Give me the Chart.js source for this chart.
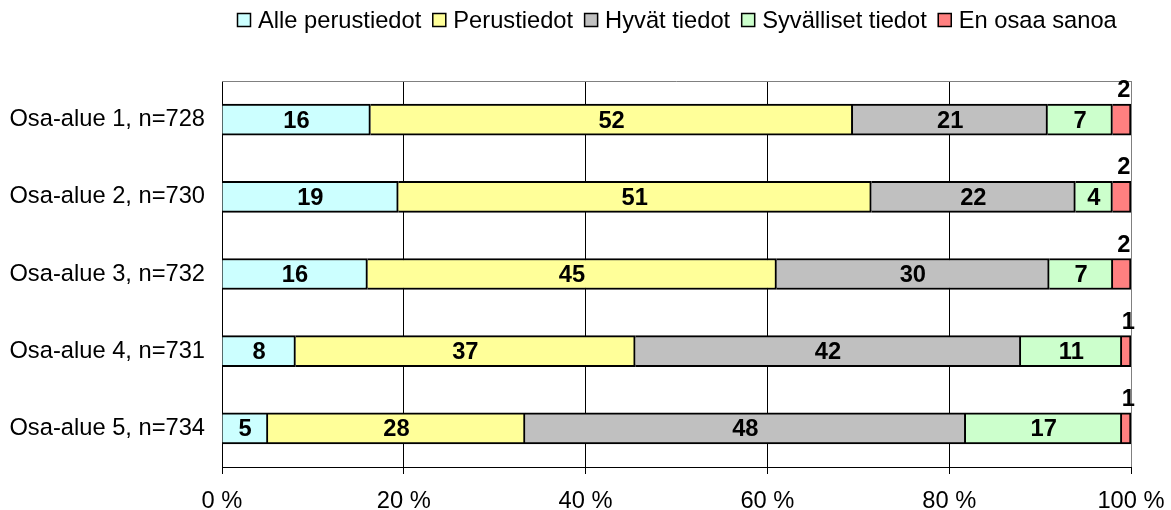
<!DOCTYPE html>
<html>
<head>
<meta charset="utf-8">
<script src="https://cdn.jsdelivr.net/npm/chart.js@4.4.0/dist/chart.umd.min.js"></script>
<style>
  html, body { margin: 0; padding: 0; background: #fff; }
  #wrap { width: 1171px; height: 510px; position: relative; }
</style>
</head>
<body>
<div id="wrap"><canvas id="chart"></canvas></div>
<script>
// categories and shown percentages
const categories = ['Osa-alue 1, n=728', 'Osa-alue 2, n=730', 'Osa-alue 3, n=732', 'Osa-alue 4, n=731', 'Osa-alue 5, n=734'];
const seriesNames = ['Alle perustiedot', 'Perustiedot', 'Hyvät tiedot', 'Syvälliset tiedot', 'En osaa sanoa'];
const allePerustiedot = [16, 19, 16, 8, 5];
const perustiedot = [52, 51, 45, 37, 28];
const hyvatTiedot = [21, 22, 30, 42, 48];
const syvallisetTiedot = [7, 4, 7, 11, 17];
const enOsaaSanoa = [2, 2, 2, 1, 1];
const xTicks = [0, 20, 40, 60, 80, 100];

const seriesValues = [allePerustiedot, perustiedot, hyvatTiedot, syvallisetTiedot, enOsaaSanoa];
const seriesColors = ['#CCFFFF', '#FFFF99', '#C0C0C0', '#CCFFCC', '#FF8080'];

const FONT = "'Liberation Sans', Arial, sans-serif";
const FONT_SIZE = 23.7;

// each row is drawn as 100 % stacked bar
const rowSums = categories.map((_, i) => seriesValues.reduce((s, arr) => s + arr[i], 0));

const datasets = seriesValues.map((vals, k) => ({
  label: seriesNames[k],
  data: vals.map((v, i) => v / rowSums[i] * 100),
  rawValues: vals,
  backgroundColor: seriesColors[k],
  borderColor: '#000',
  borderWidth: 2,
  barThickness: 31
}));

// value labels inside segments, last series above the bar
const valueLabels = {
  id: 'valueLabels',
  afterDatasetsDraw(chart) {
    const ctx = chart.ctx;
    ctx.save();
    ctx.font = 'bold ' + FONT_SIZE + 'px ' + FONT;
    ctx.fillStyle = '#000';
    ctx.textAlign = 'center';
    ctx.textBaseline = 'alphabetic';
    const last = chart.data.datasets.length - 1;
    chart.data.datasets.forEach((ds, k) => {
      const meta = chart.getDatasetMeta(k);
      meta.data.forEach((bar, i) => {
        const cx = (bar.x + bar.base) / 2;
        const txt = String(ds.rawValues[i]);
        if (k === last) {
          ctx.fillText(txt, cx + 2, bar.y - bar.height / 2 - 7);
        } else {
          ctx.fillText(txt, cx, bar.y + 8);
        }
      });
    });
    ctx.restore();
  }
};

// grey frame on top and right side of the plot area
const plotFrame = {
  id: 'plotFrame',
  beforeDatasetsDraw(chart) {
    const { ctx, chartArea: a } = chart;
    ctx.save();
    ctx.strokeStyle = '#808080';
    ctx.lineWidth = 1;
    ctx.beginPath();
    ctx.moveTo(a.left, a.top + 0.5);
    ctx.lineTo(a.right + 0.5, a.top + 0.5);
    ctx.lineTo(a.right + 0.5, a.bottom);
    ctx.stroke();
    ctx.restore();
  }
};

// legend drawn in one row at the top
const topLegend = {
  id: 'topLegend',
  afterDraw(chart) {
    const ctx = chart.ctx;
    ctx.save();
    ctx.font = FONT_SIZE + 'px ' + FONT;
    ctx.textBaseline = 'alphabetic';
    ctx.textAlign = 'left';
    let x = 237;
    chart.data.datasets.forEach(ds => {
      ctx.fillStyle = ds.backgroundColor;
      ctx.fillRect(x, 13, 14, 14);
      ctx.strokeStyle = '#000';
      ctx.lineWidth = 1.5;
      ctx.strokeRect(x + 0.5, 13.5, 13, 13);
      ctx.fillStyle = '#000';
      ctx.fillText(ds.label, x + 21, 28);
      x += 21 + ctx.measureText(ds.label).width + 11;
    });
    ctx.restore();
  }
};

new Chart(document.getElementById('chart'), {
  type: 'bar',
  data: { labels: categories, datasets },
  options: {
    indexAxis: 'y',
    responsive: true,
    maintainAspectRatio: false,
    animation: false,
    layout: { padding: { top: 81, right: 40, bottom: 0, left: 0 } },
    plugins: {
      legend: { display: false },
      tooltip: { enabled: false }
    },
    scales: {
      x: {
        stacked: true,
        min: 0,
        max: 100,
        afterBuildTicks(scale) { scale.ticks = xTicks.map(v => ({ value: v })); },
        afterFit(scale) {
          scale.height = 43;
          scale.paddingRight = 0;
        },
        grid: {
          color: c => (c.tick && c.tick.value === 100 ? '#808080' : '#000'),
          tickColor: '#000',
          tickLength: 7,
          lineWidth: 1
        },
        border: { display: true, color: '#000', width: 1 },
        ticks: {
          color: '#000',
          font: { family: FONT, size: FONT_SIZE },
          padding: 13,
          maxRotation: 0,
          callback: v => v + ' %'
        }
      },
      y: {
        stacked: true,
        afterFit(scale) { scale.width = 222; },
        grid: { display: false, drawTicks: false },
        border: { display: true, color: '#000', width: 1 },
        ticks: {
          color: '#000',
          font: { family: FONT, size: FONT_SIZE },
          padding: 17
        }
      }
    }
  },
  plugins: [plotFrame, valueLabels, topLegend]
});
</script>
</body>
</html>
